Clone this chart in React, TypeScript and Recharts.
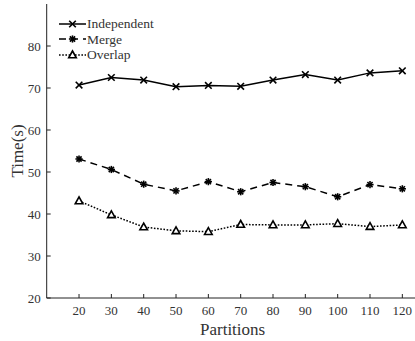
import { LineChart, Line, XAxis, YAxis, Legend } from "recharts";

const partitions = [20, 30, 40, 50, 60, 70, 80, 90, 100, 110, 120];
const independent = [70.7, 72.5, 71.9, 70.3, 70.6, 70.4, 71.9, 73.2, 71.9, 73.6, 74.1];
const merge = [53.1, 50.6, 47.1, 45.5, 47.7, 45.3, 47.5, 46.5, 44.1, 47.0, 46.0];
const overlap = [43.1, 39.8, 36.9, 36.0, 35.8, 37.5, 37.4, 37.4, 37.7, 37.0, 37.4];
const yTicks = [20, 30, 40, 50, 60, 70, 80];
const yTicksRight = [20, 30, 40, 50, 60, 70, 80, 90];

const data = partitions.map((p, i) => ({
  p,
  independent: independent[i],
  merge: merge[i],
  overlap: overlap[i],
}));

const FONT = "'Liberation Serif', 'Times New Roman', serif";
const INK = "#000";
const TEXT = "#333";

function CrossMark({ cx, cy }: any) {
  const r = 3.3;
  return (
    <g stroke={INK} strokeWidth={1.6}>
      <line x1={cx - r} y1={cy - r} x2={cx + r} y2={cy + r} />
      <line x1={cx - r} y1={cy + r} x2={cx + r} y2={cy - r} />
    </g>
  );
}

function StarMark({ cx, cy }: any) {
  const r = 3.6;
  const d = r * 0.72;
  return (
    <g stroke={INK} strokeWidth={1.6}>
      <line x1={cx} y1={cy - r} x2={cx} y2={cy + r} />
      <line x1={cx - r} y1={cy} x2={cx + r} y2={cy} />
      <line x1={cx - d} y1={cy - d} x2={cx + d} y2={cy + d} />
      <line x1={cx - d} y1={cy + d} x2={cx + d} y2={cy - d} />
    </g>
  );
}

function TriMark({ cx, cy }: any) {
  const w = 3.8;
  return (
    <polygon
      points={`${cx},${cy - 4} ${cx - w},${cy + 2.8} ${cx + w},${cy + 2.8}`}
      fill="#fff"
      stroke={INK}
      strokeWidth={1.6}
      strokeLinejoin="miter"
    />
  );
}

const series = [
  { key: "independent", name: "Independent", dash: undefined, Mark: CrossMark },
  { key: "merge", name: "Merge", dash: "7 5", Mark: StarMark },
  { key: "overlap", name: "Overlap", dash: "1.6 1.6", Mark: TriMark },
];

function LegendBox() {
  return (
    <div style={{ fontFamily: FONT, fontSize: 13.5, color: TEXT, lineHeight: "15.5px" }}>
      {series.map((s) => (
        <div key={s.key} style={{ display: "flex", alignItems: "center", height: 15.5 }}>
          <svg width={29} height={12} style={{ display: "block" }}>
            <line x1={1} y1={6} x2={28} y2={6} stroke={INK} strokeWidth={1.5} strokeDasharray={s.dash} />
            <s.Mark cx={14.5} cy={6} />
          </svg>
          <span>{s.name}</span>
        </div>
      ))}
    </div>
  );
}

function YTitle({ viewBox }: any) {
  const x = viewBox.x + 10.3;
  const y = viewBox.y + viewBox.height / 2;
  return (
    <text
      x={x}
      y={y}
      transform={`rotate(-90, ${x}, ${y})`}
      textAnchor="middle"
      dominantBaseline="central"
      fontFamily={FONT}
      fontSize={17}
      fill={TEXT}
    >
      Time(s)
    </text>
  );
}

export default function App() {
  const tickStyle = { fontFamily: FONT, fontSize: 13, fill: TEXT };
  return (
    <div style={{ position: "fixed", left: 0, top: 0, width: 415, height: 341, overflow: "hidden", background: "#fff" }}>
      <LineChart
        width={420}
        height={341}
        data={data}
        margin={{ top: 4, right: 1.5, bottom: 3, left: 6.7 }}
      >
        <XAxis
          dataKey="p"
          type="number"
          domain={[10, 125]}
          ticks={partitions}
          tickSize={-4}
          tickMargin={12}
          height={40}
          stroke="#222"
          tick={tickStyle}
          label={{
            value: "Partitions",
            position: "insideBottom",
            offset: 3,
            style: { fontFamily: FONT, fontSize: 17, fill: TEXT },
          }}
        />
        <XAxis
          xAxisId="top"
          dataKey="p"
          type="number"
          orientation="top"
          domain={[10, 125]}
          ticks={partitions}
          tickSize={-4}
          height={0}
          stroke="#222"
          tick={() => <g />}
        />
        <YAxis
          type="number"
          domain={[20, 90]}
          ticks={yTicks}
          tickSize={-4}
          tickMargin={10}
          width={40}
          stroke="#222"
          tick={tickStyle}
          label={<YTitle />}
        />
        <YAxis
          yAxisId="right"
          orientation="right"
          type="number"
          domain={[20, 90]}
          ticks={yTicksRight}
          tickSize={-4}
          width={0}
          stroke="#222"
          tick={() => <g />}
        />
        <Legend
          layout="vertical"
          align="center"
          verticalAlign="middle"
          content={() => <LegendBox />}
          wrapperStyle={{ left: 58, top: 16, width: "auto" }}
        />
        {series.map((s) => (
          <Line
            key={s.key}
            dataKey={s.key}
            name={s.name}
            stroke={INK}
            strokeWidth={1.5}
            strokeDasharray={s.dash}
            dot={(props: any) => <s.Mark key={props.index} cx={props.cx} cy={props.cy} />}
            activeDot={false}
            isAnimationActive={false}
          />
        ))}
      </LineChart>
    </div>
  );
}
